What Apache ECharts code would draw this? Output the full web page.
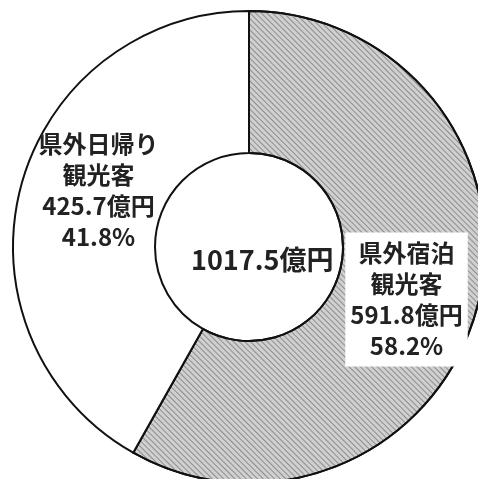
<!DOCTYPE html>
<html><head><meta charset="utf-8">
<script src="https://cdn.jsdelivr.net/npm/echarts@6/dist/echarts.min.js"></script>
<style>html,body{margin:0;padding:0;background:#fff}#c{width:478px;height:479px}</style>
</head><body><div id="c"></div>
<script>
const categories = ['県外宿泊\n観光客', '県外日帰り\n観光客'];
const values = [591.8, 425.7];
const percents = ['58.2%', '41.8%'];
const totalLabel = '1017.5億円';
const fillColors = ['#d0d0d0', '#ffffff'];
const labelShift = [[-5, 10], [12, -14]];

const chart = echarts.init(document.getElementById('c'), null, {renderer: 'canvas'});
const font = '"Noto Sans CJK JP", "Noto Sans", sans-serif';
chart.setOption({
  backgroundColor: '#fff',
  animation: false,
  title: {
    text: totalLabel, left: 186, top: 241,
    textStyle: {fontFamily: font, fontSize: 27, fontWeight: 'bold', color: '#222'}
  },
  series: [{
    type: 'pie',
    center: [249, 247],
    radius: [94, 236],
    startAngle: 90,
    clockwise: true,
    silent: true,
    data: categories.map((c, i) => {
      const item = {
        name: c, value: values[i],
        itemStyle: {color: fillColors[i]},
        label: i === 0 ? {backgroundColor: '#fff', padding: [6, 5, 4, 5]} : {}
      };
      if (i === 0) {
        item.itemStyle.decal = {symbol: 'rect', dashArrayX: [1, 0], dashArrayY: [1, 3], rotation: Math.PI / 4, color: 'rgba(40,40,40,0.4)', symbolSize: 1};
      }
      return item;
    }),
    itemStyle: {borderColor: '#111', borderWidth: 2},
    label: {
      show: true, position: 'inside',
      formatter: p => p.name + '\n' + p.value + '億円\n' + percents[p.dataIndex],
      fontFamily: font, fontSize: 24, lineHeight: 31, fontWeight: 'bold', color: '#222', align: 'center'
    },
    labelLine: {show: false},
    labelLayout: p => ({dx: labelShift[p.dataIndex][0], dy: labelShift[p.dataIndex][1]})
  }]
});
</script></body></html>
